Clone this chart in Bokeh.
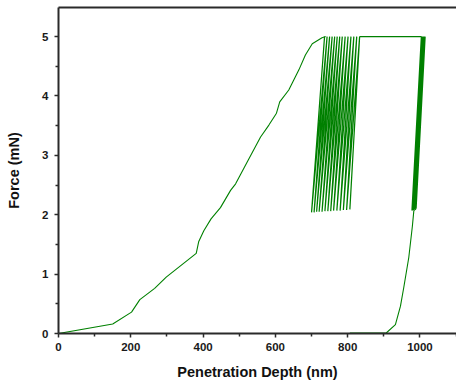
from bokeh.plotting import figure
from bokeh.models import LinearAxis, Range1d, FixedTicker
from bokeh.embed import file_html
from bokeh.resources import INLINE

# Loading segment (nm, mN)
load_x = [0, 150, 202, 225, 266, 298, 381, 388, 402, 422, 448, 476, 490, 522, 559, 582, 603, 612, 637, 665, 683, 702, 729, 739]
load_y = [0, 0.16, 0.36, 0.57, 0.76, 0.95, 1.35, 1.55, 1.73, 1.93, 2.12, 2.41, 2.52, 2.89, 3.31, 3.51, 3.71, 3.90, 4.10, 4.44, 4.69, 4.88, 4.98, 5.0]

# Oscillating hold segment (zig-zag between 5.0 and ~2.05 mN)
hold1_x = [736, 700, 743, 707, 750, 714, 757, 721, 764, 729, 771, 737, 778, 745,
           785, 753, 793, 761, 801, 770, 809, 779, 817, 788, 825, 797, 833, 806, 833]
hold1_y = [5.0, 2.04, 5.0, 2.04, 5.0, 2.05, 5.0, 2.05, 5.0, 2.05, 5.0, 2.06, 5.0, 2.06,
           5.0, 2.06, 5.0, 2.07, 5.0, 2.07, 5.0, 2.07, 5.0, 2.08, 5.0, 2.08, 5.0, 2.09, 5.0]

# Flat hold at maximum load
flat_x = [833, 1004]
flat_y = [5.0, 5.0]

# Second oscillating band near 1000 nm
hold2_x = [1004, 978, 1005, 979, 1006, 980, 1007, 981, 1008, 982, 1009, 983, 1010, 985, 1011, 986,
           1012, 987, 1013, 988, 1014, 989]
hold2_y = [5.0, 2.07, 5.0, 2.07, 5.0, 2.08, 5.0, 2.08, 5.0, 2.08, 5.0, 2.09, 5.0, 2.09, 5.0, 2.09,
           5.0, 2.10, 5.0, 2.10, 5.0, 2.10]

# Unloading segment
unload_x = [989, 983, 979, 969, 955, 946, 932, 905]
unload_y = [2.10, 2.07, 1.81, 1.28, 0.77, 0.46, 0.15, 0.0]

# Retract at zero load
zero_x = [905, 806]
zero_y = [0.0, 0.0]

x_ticks = [0, 200, 400, 600, 800, 1000]
y_ticks = [0, 1, 2, 3, 4, 5]

GREEN = "#008000"
FONT = "Liberation Sans"

p = figure(width=456, height=382, output_backend="svg", toolbar_location=None,
           x_range=Range1d(0, 1101), y_range=Range1d(0, 5.49),
           min_border_left=58, min_border_right=0, min_border_top=7, min_border_bottom=10)
p.outline_line_color = None
p.grid.visible = False
p.background_fill_color = "white"

for xs, ys, w in [(load_x, load_y, 1.1), (hold1_x, hold1_y, 1.25), (flat_x, flat_y, 1.1),
                  (hold2_x, hold2_y, 1.4), (unload_x, unload_y, 1.1), (zero_x, zero_y, 2.2)]:
    p.line(xs, ys, line_color=GREEN, line_width=w)

for ax in (p.xaxis[0], p.yaxis[0]):
    ax.axis_line_width = 2
    ax.axis_line_color = "#2a2a2a"
    ax.major_tick_line_color = "#2a2a2a"
    ax.minor_tick_line_color = "#2a2a2a"
    ax.major_tick_line_width = 1.5
    ax.minor_tick_line_width = 1.5
    ax.major_tick_in = 0
    ax.major_tick_out = 4
    ax.minor_tick_in = 0
    ax.minor_tick_out = 3
    ax.major_label_text_font = FONT
    ax.major_label_text_font_style = "bold"
    ax.major_label_text_font_size = "11.5px"
    ax.major_label_text_color = "#1a1a1a"
    ax.axis_label_text_font = FONT
    ax.axis_label_text_font_style = "bold"
    ax.axis_label_text_font_size = "14.5px"
    ax.axis_label_text_color = "#111111"

p.xaxis[0].ticker = FixedTicker(ticks=x_ticks, minor_ticks=[100, 300, 500, 700, 900, 1100])
p.yaxis[0].ticker = FixedTicker(ticks=y_ticks, minor_ticks=[0.5, 1.5, 2.5, 3.5, 4.5])
p.xaxis[0].axis_label = "Penetration Depth (nm)"
p.yaxis[0].axis_label = "Force (mN)"
p.xaxis[0].major_label_standoff = 5
p.xaxis[0].axis_label_standoff = 10
p.yaxis[0].major_label_standoff = 6
p.yaxis[0].axis_label_standoff = 17

top = LinearAxis(ticker=FixedTicker(ticks=[]), major_label_text_font_size="0px",
                 major_tick_out=0, minor_tick_out=0, major_tick_in=0, minor_tick_in=0,
                 axis_line_width=2, axis_line_color="#2a2a2a", major_label_standoff=0)
p.add_layout(top, "above")

open("out.html", "w").write(file_html(p, INLINE))
